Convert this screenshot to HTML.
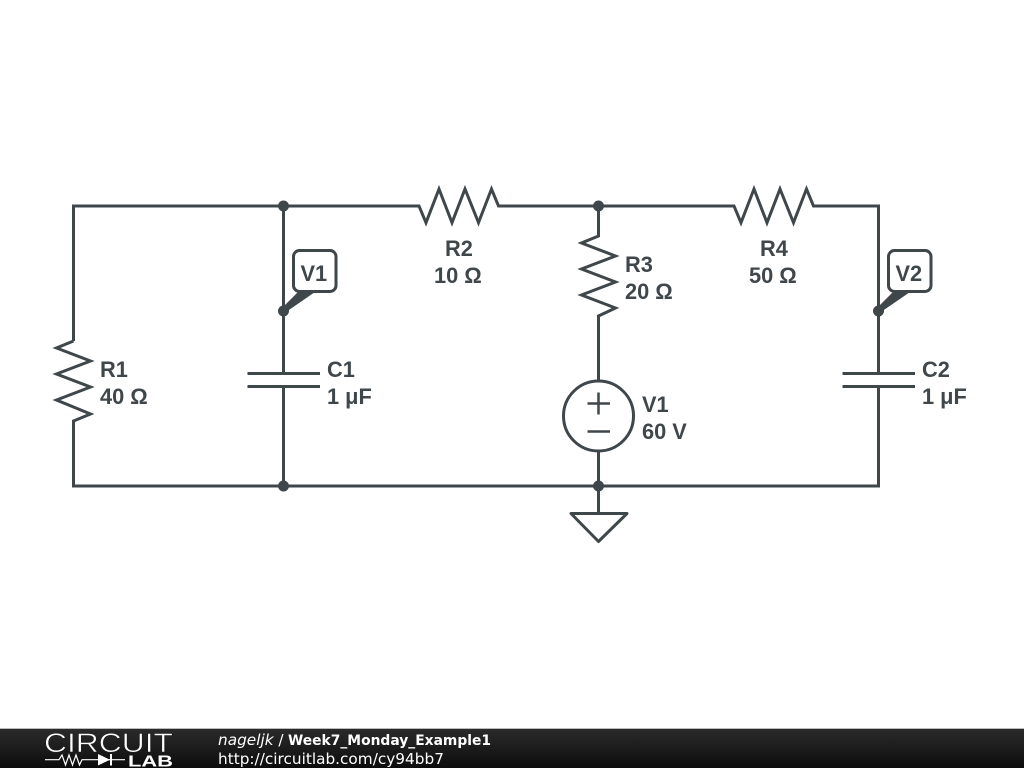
<!DOCTYPE html>
<html><head><meta charset="utf-8"><style>
html,body{margin:0;padding:0;background:#fff;width:1024px;height:768px;overflow:hidden}
svg{display:block}
.l{font:bold 21.8px "Liberation Sans",sans-serif;fill:#3f474b}
.f{font:15.3px "DejaVu Sans",sans-serif;fill:#fff}
</style></head><body>
<svg width="1024" height="768" viewBox="0 0 1024 768" xmlns="http://www.w3.org/2000/svg">
<defs><linearGradient id="b" x1="0" y1="0" x2="0" y2="1"><stop offset="0" stop-color="#2a2a2a"/><stop offset=".5" stop-color="#1c1c1c"/><stop offset="1" stop-color="#0c0c0c"/></linearGradient></defs>
<rect width="1024" height="768" fill="#fff"/>
<g fill="none" stroke="#3f474b" stroke-width="3" stroke-linejoin="miter">
<path d="M73.500 341V206H419L426 222.700L439 189L452 222.700L465 189L478.500 222.700L491.500 189L498.500 206H734L741 222.700L754 189L767 222.700L780 189L793.500 222.700L806.500 189L813.500 206H878.500V373.500"/>
<path d="M73.500 341L56.500 348L90.500 361L56.500 374L90.500 387L56.500 400L90.500 414L73.500 421V486H878.500V386.500"/>
<path d="M283.500 206V373.500M247.500 373.500H320M247.500 386.500H320M283.500 386.500V486"/>
<path d="M842.500 373.500H915M842.500 386.500H915"/>
<path d="M598.500 206V236L581.500 243L615.500 256L581.500 269L615.500 282L581.500 295L615.500 308L598.500 316V381"/>
<circle cx="598.500" cy="416" r="35"/>
<path d="M598.500 451V513.500"/>
<path d="M587.500 403.500H610M598.500 392.500V414.500M587.500 431.500H610" stroke-width="2.500"/>
<path d="M571 513.500H627L598.500 541.500Z" stroke-linejoin="round"/>
<rect x="293.500" y="250.500" width="42.500" height="41" rx="6"/>
<rect x="888.500" y="250.500" width="42.500" height="41" rx="6"/>
</g>
<g fill="#3f474b">
<circle cx="283.500" cy="206" r="5.500"/><circle cx="598.500" cy="206" r="5.500"/>
<circle cx="283.500" cy="486" r="5.500"/><circle cx="598.500" cy="486" r="5.500"/>
<circle cx="283.500" cy="311" r="5.500"/><circle cx="878.500" cy="311" r="5.500"/>
<path d="M283 307L298 292H315L286 312Z"/>
<path d="M878 307L893 292H910L881 312Z"/>
</g>
<text class="l" x="300.500" y="281">V1</text>
<text class="l" x="895.500" y="281">V2</text>
<text class="l" x="100" y="377">R1</text><text class="l" x="100" y="404">40 Ω</text>
<text class="l" x="327" y="377">C1</text><text class="l" x="327" y="404">1 μF</text>
<text class="l" x="445" y="256">R2</text><text class="l" x="434" y="283">10 Ω</text>
<text class="l" x="625" y="272">R3</text><text class="l" x="625" y="299">20 Ω</text>
<text class="l" x="760" y="256">R4</text><text class="l" x="749" y="283">50 Ω</text>
<text class="l" x="642" y="412">V1</text><text class="l" x="642" y="439">60 V</text>
<text class="l" x="922" y="377">C2</text><text class="l" x="922" y="404">1 μF</text>
<rect y="729" width="1024" height="39" fill="url(#b)"/>
<rect y="728" width="1024" height="1" fill="#bbb"/>
<text x="44" y="752" style="font:27px 'Liberation Sans',sans-serif" fill="#fff" stroke="#1c1c1c" stroke-width=".6" textLength="129" lengthAdjust="spacingAndGlyphs">CIRCUIT</text>
<path d="M45 759.700H59L62 755L65.500 765L69 755L72.500 765L76 755L79.500 765L82 759.700H125" fill="none" stroke="#fff" stroke-width="1.200"/>
<path d="M98 754V765.500L110 759.700Z M110 754H112V765.500H110Z" fill="#fff"/>
<text x="128" y="766.500" style="font:bold 15.500px 'Liberation Sans',sans-serif" fill="#fff" textLength="45" lengthAdjust="spacingAndGlyphs">LAB</text>
<text class="f" x="218" y="745"><tspan font-style="italic">nageljk</tspan> /</text>
<text class="f" x="288" y="745" style="font-weight:bold;font-size:14.500px" textLength="203" lengthAdjust="spacingAndGlyphs">Week7_Monday_Example1</text>
<text class="f" x="218" y="764">http://circuitlab.com/cy94bb7</text>
</svg>
</body></html>
